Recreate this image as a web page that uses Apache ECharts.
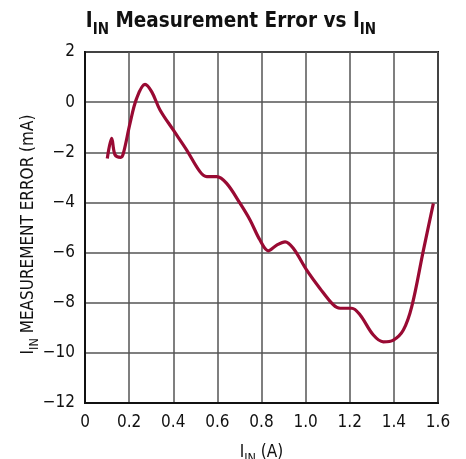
<!DOCTYPE html>
<html><head><meta charset="utf-8">
<script src="https://cdn.jsdelivr.net/npm/echarts@6/dist/echarts.min.js"></script>
<style>html,body{margin:0;padding:0;background:#fff}#c{width:466px;height:459px}</style>
</head><body><div id="c"></div>
<script>
const FONT = '"Liberation Sans Narrow","DejaVu Sans Condensed","Roboto Condensed",sans-serif';
const xValues = [0.101,0.121,0.136,0.162,0.174,0.204,0.234,0.272,0.302,0.34,0.40,0.461,0.521,0.552,0.597,0.642,0.703,0.748,0.793,0.831,0.869,0.907,0.944,1.005,1.065,1.126,1.156,1.209,1.247,1.307,1.352,1.398,1.443,1.481,1.534,1.579];
const yValues = [-2.25,-1.44,-2.1,-2.2,-2.04,-0.85,0.15,0.71,0.42,-0.31,-1.11,-1.91,-2.77,-2.97,-2.97,-3.24,-4.04,-4.70,-5.50,-5.93,-5.70,-5.57,-5.83,-6.70,-7.43,-8.09,-8.22,-8.22,-8.49,-9.29,-9.56,-9.49,-9.09,-8.16,-5.90,-4.04];
const titleText = '{m|I}{s|IN}{m| Measurement Error vs I}{s|IN}';
const xName = '{m|I}{s|IN}{m| (A)}';
const yName = '{m|I}{s|IN}{m| MEASUREMENT ERROR (mA)}';

const chart = echarts.init(document.getElementById('c'), null, {renderer:'canvas'});
const data = xValues.map((x,i)=>[x,yValues[i]]);
const axisRich = {
  m:{fontSize:17,fontFamily:FONT,color:'#111',lineHeight:20,verticalAlign:'bottom'},
  s:{fontSize:12.5,fontFamily:FONT,color:'#111',lineHeight:20,verticalAlign:'bottom',padding:[0,0,-4,0]}
};
chart.setOption({
  animation:false,
  title:{text:titleText,left:226,top:1,textAlign:'center',
    textStyle:{rich:{
      m:{fontSize:20.5,fontWeight:'bold',fontFamily:FONT,color:'#111',lineHeight:26,verticalAlign:'bottom'},
      s:{fontSize:15,fontWeight:'bold',fontFamily:FONT,color:'#111',lineHeight:26,verticalAlign:'bottom',padding:[0,0,-6,0]}
    }}},
  grid:{left:85,right:28,top:52,bottom:56,show:true,borderColor:'#111',borderWidth:2,
    backgroundColor:'transparent',outerBoundsMode:'none',containLabel:false},
  xAxis:{type:'value',min:0,max:1.6,interval:0.2,
    name:xName,nameLocation:'middle',nameGap:38,nameTextStyle:{rich:axisRich},
    axisLine:{show:true,onZero:false,lineStyle:{color:'#111',width:2}},
    axisTick:{show:false},
    splitLine:{show:true,lineStyle:{color:'#555',width:1.5}},
    axisLabel:{margin:11,fontSize:17,fontFamily:FONT,color:'#111',
      formatter:v=>v===0?'0':v.toFixed(1)}},
  yAxis:{type:'value',min:-12,max:2,interval:2,
    name:yName,nameLocation:'middle',nameRotate:90,nameGap:48,nameMoveOverlap:false,
    nameTextStyle:{rich:axisRich,padding:[0,14,0,0]},
    axisLine:{show:true,onZero:false,lineStyle:{color:'#111',width:2}},
    axisTick:{show:false},
    splitLine:{show:true,lineStyle:{color:'#555',width:1.5}},
    axisLabel:{margin:10,fontSize:17,fontFamily:FONT,color:'#111',
      formatter:v=>String(v).replace('-','\u2212')}},
  series:[{type:'line',data:data,smooth:0.35,symbol:'none',
    lineStyle:{color:'#990a33',width:3.2}}]
});
</script></body></html>
